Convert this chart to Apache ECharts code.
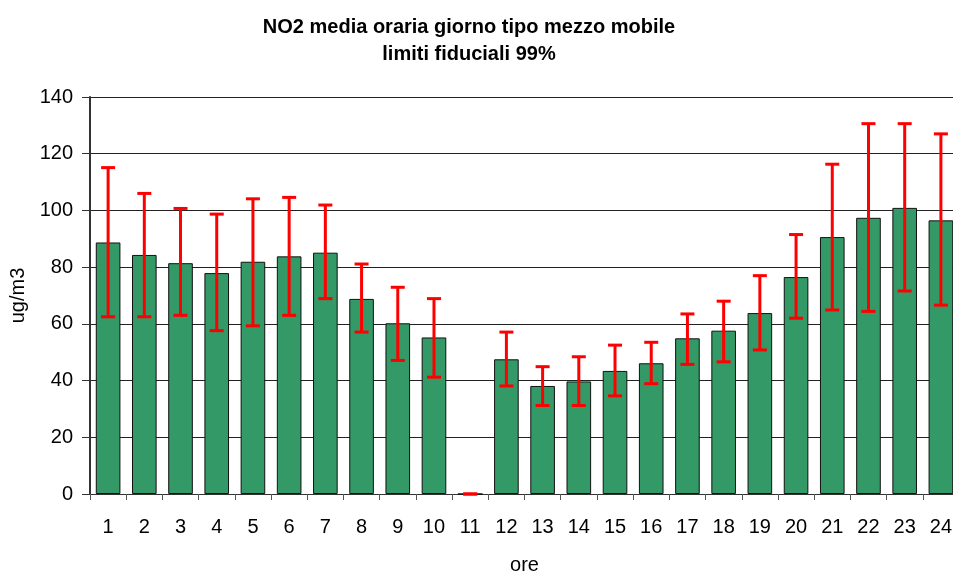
<!DOCTYPE html>
<html>
<head>
<meta charset="utf-8">
<script src="https://cdn.jsdelivr.net/npm/echarts@6/dist/echarts.min.js"></script>
<style>html,body{margin:0;padding:0;background:#fff}#c{width:953px;height:573px}</style>
</head>
<body>
<div id="c"></div>
<script>
const categories = ['1','2','3','4','5','6','7','8','9','10','11','12','13','14','15','16','17','18','19','20','21','22','23','24'];
const values   = [88.7, 84.3, 81.4, 77.9, 81.9, 83.8, 85.1, 68.8, 60.2, 55.2, 0, 47.5, 38.1, 39.7, 43.4, 46.1, 54.9, 57.6, 63.8, 76.5, 90.6, 97.4, 100.9, 96.5];
const errHigh  = [115.1, 106.0, 100.7, 98.7, 104.1, 104.6, 101.9, 81.1, 72.9, 68.9, 0, 57.1, 44.9, 48.4, 52.5, 53.5, 63.5, 68.0, 77.0, 91.5, 116.3, 130.6, 130.6, 127.0];
const errLow   = [62.5, 62.5, 63.0, 57.6, 59.3, 63.0, 68.9, 57.1, 47.1, 41.2, 0, 38.1, 31.2, 31.2, 34.6, 38.9, 45.7, 46.6, 50.8, 62.0, 64.9, 64.4, 71.6, 66.6];
const yTicks = [0, 20, 40, 60, 80, 100, 120, 140];

const font = 'Liberation Sans, Arial, sans-serif';
const chart = echarts.init(document.getElementById('c'), null, {renderer: 'canvas'});
chart.setOption({
  animation: false,
  backgroundColor: '#fff',
  title: {
    text: 'NO2 media oraria giorno tipo mezzo mobile\nlimiti fiduciali 99%',
    left: 469, top: 14, textAlign: 'center', padding: 0,
    textStyle: {fontFamily: font, fontSize: 20, fontWeight: 'bold', color: '#000', lineHeight: 27}
  },
  grid: {left: 90, top: 97, width: 869, height: 397, containLabel: false, outerBoundsMode: 'none'},
  xAxis: {
    type: 'category', data: categories,
    name: 'ore', nameLocation: 'middle', nameGap: 61,
    nameTextStyle: {fontFamily: font, fontSize: 20, color: '#000'},
    axisLine: {lineStyle: {color: '#333', width: 1}},
    axisTick: {show: true, alignWithLabel: false, length: 6, lineStyle: {color: '#555'}},
    axisLabel: {fontFamily: font, fontSize: 20, color: '#000', margin: 23, interval: 0},
    splitLine: {show: false}
  },
  yAxis: {
    type: 'value', min: yTicks[0], max: yTicks[yTicks.length - 1], interval: 20,
    name: 'ug/m3', nameLocation: 'middle', nameGap: 57,
    nameTextStyle: {fontFamily: font, fontSize: 20, color: '#000'},
    axisLine: {show: true, lineStyle: {color: '#333', width: 2}},
    axisTick: {show: true, length: 8, lineStyle: {color: '#333'}},
    axisLabel: {fontFamily: font, fontSize: 20, color: '#000', margin: 17},
    splitLine: {show: true, lineStyle: {color: '#222', width: 1}}
  },
  series: [
    {
      type: 'bar', data: values, barCategoryGap: '32%',
      itemStyle: {color: '#339966', borderColor: '#111', borderWidth: 1}
    },
    {
      type: 'custom',
      data: categories.map((c, i) => [i, errLow[i], errHigh[i]]),
      z: 5,
      renderItem: function (params, api) {
        const i = api.value(0);
        const lo = api.coord([i, api.value(1)]);
        const hi = api.coord([i, api.value(2)]);
        const hw = 7;
        const st = {stroke: '#ff0000', lineWidth: 3};
        return {
          type: 'group',
          children: [
            {type: 'line', shape: {x1: lo[0], y1: lo[1], x2: hi[0], y2: hi[1]}, style: st},
            {type: 'line', shape: {x1: hi[0] - hw, y1: hi[1], x2: hi[0] + hw, y2: hi[1]}, style: st},
            {type: 'line', shape: {x1: lo[0] - hw, y1: lo[1], x2: lo[0] + hw, y2: lo[1]}, style: st}
          ]
        };
      }
    }
  ]
});
</script>
</body>
</html>
